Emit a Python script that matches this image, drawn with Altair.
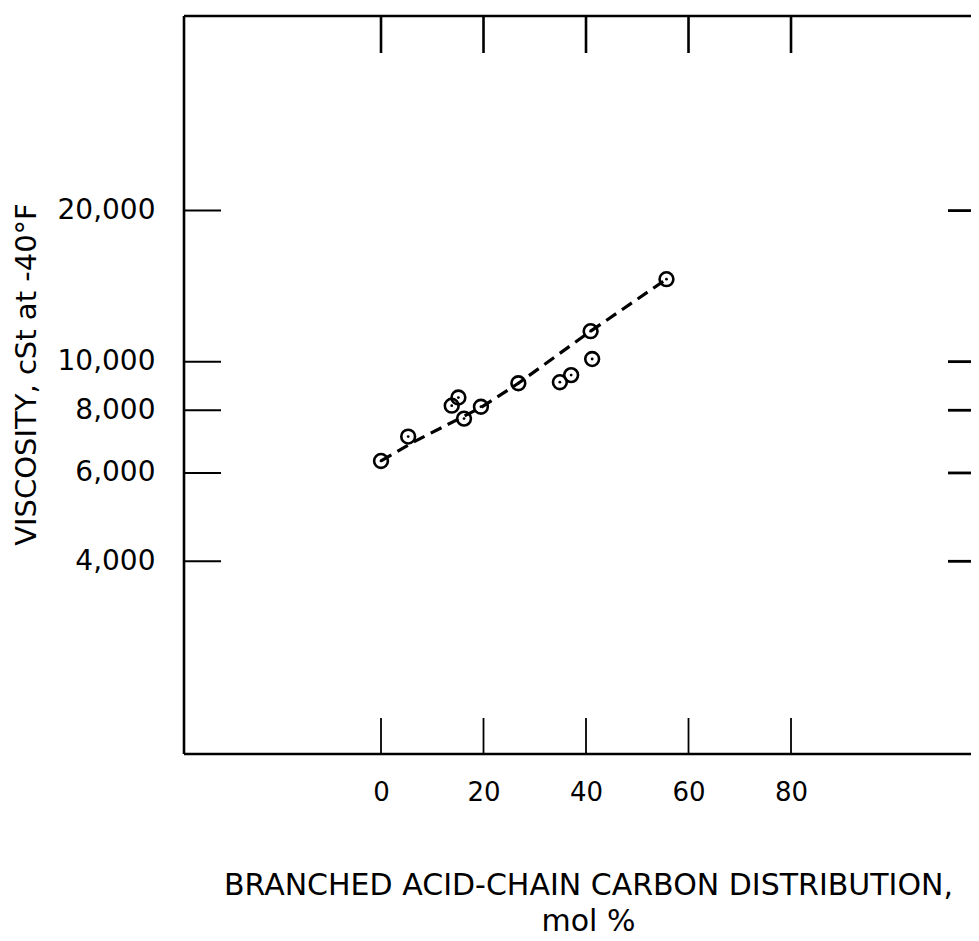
import altair as alt
import pandas as pd

branched_pct = [0, 5.3, 13.8, 15.1, 16.2, 19.5, 26.8, 34.9, 37.1, 40.9, 41.2, 55.7]
viscosity_cst = [6340, 7090, 8170, 8480, 7700, 8130, 9055, 9100, 9400, 11500, 10120, 14600]

# Dashed trend curve
fit_pct = [0, 6.5, 19.5, 26.8, 40.9, 55.7]
fit_visc = [6340, 6930, 8100, 9055, 11500, 14600]

# Tick values
x_tick_values = [0, 20, 40, 60, 80]
y_tick_values = [4000, 6000, 8000, 10000, 20000]

W, H = 787, 738
FONT = "DejaVu Sans"

pts = pd.DataFrame({"x": branched_pct, "y": viscosity_cst})
fit = pd.DataFrame({"x": fit_pct, "y": fit_visc})
xt = pd.DataFrame({"x": x_tick_values})
yt = pd.DataFrame({"y": y_tick_values})
one = pd.DataFrame({"k": [0]})

xscale = alt.Scale(domain=[-38.44, 115.12], nice=False, zero=False)
yscale = alt.Scale(type="log", domain=[1652, 48850], nice=False)

xaxis = alt.Axis(
    values=x_tick_values, grid=False, ticks=False, domain=False,
    labelFont=FONT, labelFontSize=26, labelColor="black", labelPadding=25,
    title=["BRANCHED ACID-CHAIN CARBON DISTRIBUTION,", "mol %"],
    titleFont=FONT, titleFontSize=30, titleFontWeight="normal", titleColor="black",
    titleX=404, titleY=116, titleAlign="center", titleBaseline="top", titleLineHeight=36,
)
yaxis = alt.Axis(
    values=y_tick_values, format=",d", grid=False, ticks=False, domain=False,
    labelFont=FONT, labelFontSize=28, labelColor="black", labelPadding=29,
    title="VISCOSITY, cSt at -40°F",
    titleFont=FONT, titleFontSize=29, titleFontWeight="normal", titleColor="black",
    titleAngle=270, titleX=-158, titleY=358, titleAlign="center", titleBaseline="middle",
)

base_x = alt.X("x:Q", scale=xscale, axis=xaxis)
base_y = alt.Y("y:Q", scale=yscale, axis=yaxis)

# invisible layer carrying the axes
axes_layer = alt.Chart(pts).mark_point(opacity=0).encode(x=base_x, y=base_y)

LW = 2.6
frame_top = alt.Chart(one).mark_rule(color="black", strokeWidth=LW).encode(
    x=alt.value(0), x2=alt.value(W), y=alt.value(0))
frame_bottom = alt.Chart(one).mark_rule(color="black", strokeWidth=LW).encode(
    x=alt.value(0), x2=alt.value(W), y=alt.value(H))
frame_left = alt.Chart(one).mark_rule(color="black", strokeWidth=LW).encode(
    x=alt.value(0), y=alt.value(0), y2=alt.value(H))

tick_top = alt.Chart(xt).mark_rule(color="black", strokeWidth=2.6).encode(
    x=alt.X("x:Q", scale=xscale), y=alt.value(0), y2=alt.value(37))
tick_bottom = alt.Chart(xt).mark_rule(color="black", strokeWidth=1.8).encode(
    x=alt.X("x:Q", scale=xscale), y=alt.value(H - 36), y2=alt.value(H))
tick_left = alt.Chart(yt).mark_rule(color="black", strokeWidth=2.0).encode(
    y=alt.Y("y:Q", scale=yscale), x=alt.value(0), x2=alt.value(37))
tick_right = alt.Chart(yt).mark_rule(color="black", strokeWidth=2.8).encode(
    y=alt.Y("y:Q", scale=yscale), x=alt.value(W - 23), x2=alt.value(W))

trend = alt.Chart(fit).mark_line(color="black", strokeWidth=3.2, strokeDash=[12, 7]).encode(
    x=alt.X("x:Q", scale=xscale), y=alt.Y("y:Q", scale=yscale))

rings = alt.Chart(pts).mark_point(shape="circle", filled=False, color="black",
                                  size=190, strokeWidth=2.6, opacity=1).encode(
    x=alt.X("x:Q", scale=xscale), y=alt.Y("y:Q", scale=yscale))
dots = alt.Chart(pts).mark_circle(color="black", size=8, opacity=1).encode(
    x=alt.X("x:Q", scale=xscale), y=alt.Y("y:Q", scale=yscale))

chart = alt.layer(
    axes_layer, frame_top, frame_bottom, frame_left,
    tick_top, tick_bottom, tick_left, tick_right,
    trend, rings, dots,
).properties(
    width=W, height=H,
    autosize=alt.AutoSizeParams(type="none"),
    padding={"left": 176, "top": 8, "right": 0, "bottom": 187},
    background="white",
).configure_view(stroke=None)

chart.save("out.html", embed_options={"renderer": "svg", "actions": False})
